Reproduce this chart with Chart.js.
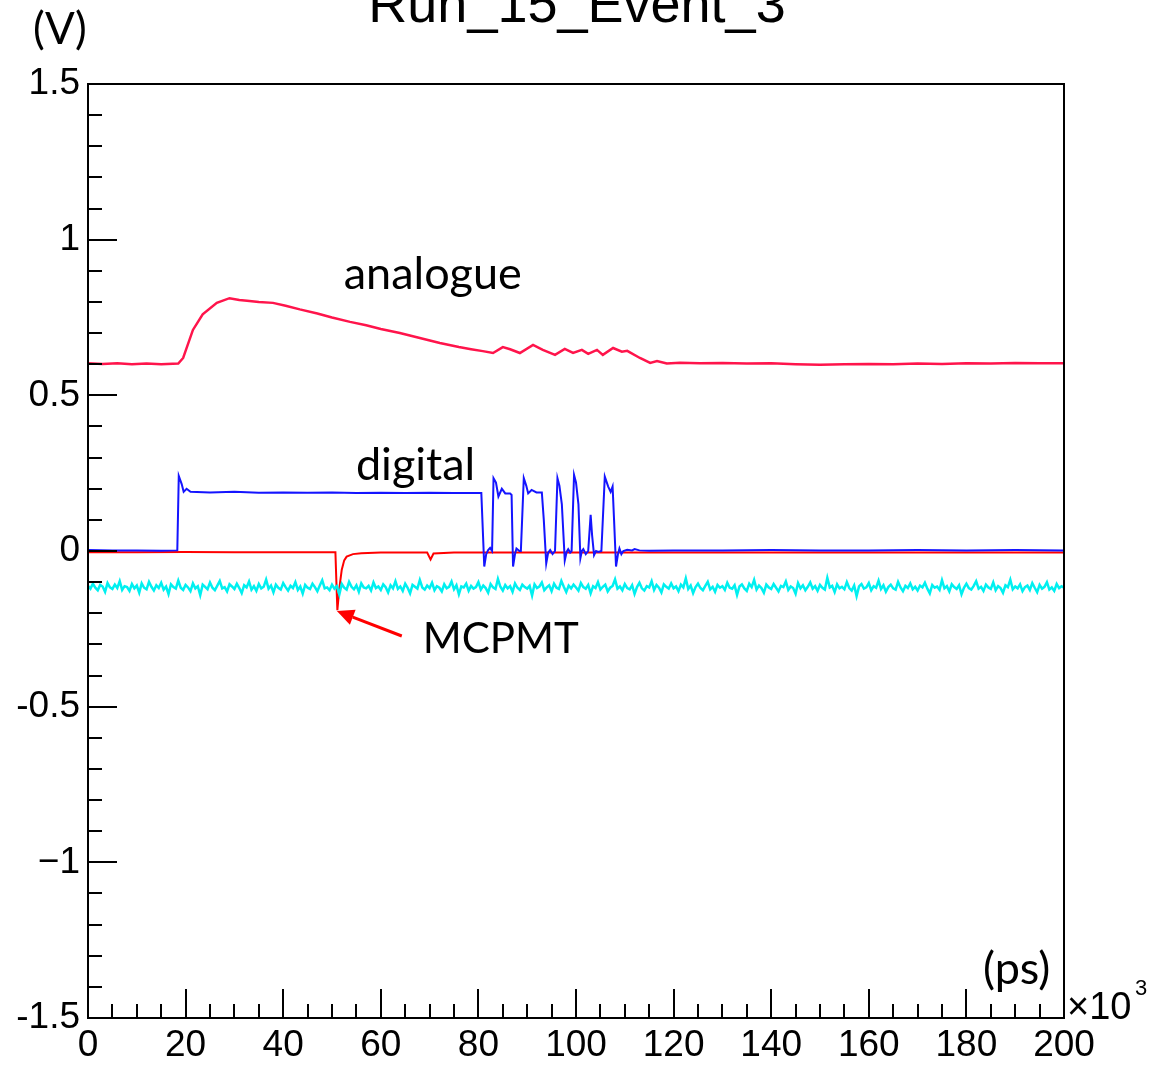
<!DOCTYPE html>
<html>
<head>
<meta charset="utf-8">
<title>Run_15_Event_3</title>
<script src="https://cdn.jsdelivr.net/npm/chart.js@4.4.1/dist/chart.umd.min.js"></script>
<style>
  html, body { margin: 0; padding: 0; background: #fff; }
  canvas { display: block; }
</style>
</head>
<body>
<canvas id="c" width="1152" height="1066" style="width:1152px;height:1066px"></canvas>
<script>
// time in units of 10^3 ps, amplitude in V
const analogueT = [0, 3, 6, 9, 12, 15, 18.5, 19.5, 21.5, 23.5, 26.4, 29, 31, 32.6, 35, 37.9, 40.5, 43.4, 47, 50, 53.7, 57, 60, 63.9, 68, 72.1, 76, 78.5, 80.9, 83, 85, 86.5, 88.5, 91.2, 93.2, 95.7, 97.7, 99.4, 101.2, 102.5, 104.3, 105.5, 107.6, 109.4, 110.5, 113.1, 115.2, 116.6, 118.6, 121.3, 125.4, 130, 135, 140, 145, 150, 155, 160, 165, 170, 175, 180, 185, 190, 195, 200];
const analogueV = [0.603, 0.601, 0.603, 0.600, 0.602, 0.600, 0.602, 0.62, 0.71, 0.76, 0.797, 0.812, 0.806, 0.804, 0.800, 0.797, 0.788, 0.776, 0.763, 0.750, 0.736, 0.725, 0.713, 0.700, 0.684, 0.668, 0.655, 0.648, 0.642, 0.636, 0.655, 0.648, 0.636, 0.662, 0.646, 0.630, 0.649, 0.636, 0.646, 0.633, 0.646, 0.630, 0.652, 0.640, 0.643, 0.620, 0.604, 0.610, 0.602, 0.605, 0.603, 0.604, 0.602, 0.603, 0.600, 0.598, 0.600, 0.601, 0.600, 0.602, 0.601, 0.603, 0.602, 0.604, 0.603, 0.603];

const digitalT = [0, 5, 10, 15, 18.3, 18.6, 19.2, 19.6, 20.2, 21, 25, 30, 35, 40, 45, 50, 55, 60, 65, 70, 75, 80.6, 81.2, 81.6, 82, 82.4, 82.8, 83.1, 83.6, 84.1, 84.8, 85.5, 86.5, 86.8, 87.1, 87.5, 87.8, 88.4, 88.7, 89.3, 89.8, 90.2, 90.9, 91.9, 93.0, 93.4, 93.9, 94.3, 94.7, 95.2, 95.7, 96.2, 96.6, 97.1, 97.7, 98.1, 98.4, 98.8, 99.1, 99.6, 100.0, 100.5, 100.9, 101.2, 101.5, 102.0, 102.5, 103.0, 103.3, 103.7, 104.1, 104.6, 105.2, 105.9, 106.6, 107.1, 107.5, 107.8, 108.2, 108.6, 108.9, 109.3, 109.7, 110.5, 111.5, 112, 113, 115, 120, 130, 140, 150, 160, 170, 180, 190, 200];
const digitalV = [0.003, 0.002, 0.002, 0.001, 0.002, 0.241, 0.215, 0.19, 0.2, 0.19, 0.188, 0.19, 0.187, 0.188, 0.187, 0.188, 0.186, 0.187, 0.186, 0.187, 0.186, 0.186, -0.05, -0.01, 0.003, 0.01, 0.0, 0.234, 0.22, 0.175, 0.2, 0.185, 0.185, 0.18, -0.05, -0.01, 0.008, 0.0, 0.0, 0.234, 0.21, 0.185, 0.196, 0.188, 0.188, 0.10, -0.04, -0.005, 0.003, -0.01, 0.0, 0.234, 0.21, 0.15, -0.03, -0.002, 0.006, -0.005, 0.0, 0.244, 0.22, 0.15, -0.023, 0.0, 0.006, -0.01, 0.0, 0.116, 0.05, -0.013, 0.0, -0.003, 0.0, 0.239, 0.207, 0.19, 0.207, 0.1, -0.05, -0.01, 0.008, -0.01, 0.0, 0.004, 0.002, 0.006, 0.002, 0.001, 0.002, 0.002, 0.003, 0.002, 0.002, 0.003, 0.002, 0.003, 0.002];

const mcpmtT = [0, 10, 20, 30, 40, 50.7, 50.9, 51.1, 51.5, 52, 52.5, 53, 54.3, 56, 60, 65, 69.5, 70.2, 70.8, 75, 80, 100, 120, 140, 160, 180, 200];
const mcpmtV = [-0.004, -0.004, -0.003, -0.004, -0.004, -0.004, -0.10, -0.19, -0.12, -0.06, -0.03, -0.018, -0.01, -0.007, -0.005, -0.005, -0.005, -0.027, -0.008, -0.005, -0.005, -0.005, -0.005, -0.005, -0.005, -0.005, -0.005];

// fourth channel, sampled every 0.5 (x10^3 ps) from 0 to 200
const cyanStep = 0.5;
const cyanV = [
  -0.112,-0.121,-0.105,-0.118,-0.126,-0.109,-0.114,-0.131,-0.103,-0.117,-0.122,-0.108,-0.119,-0.097,-0.125,-0.113,-0.116,-0.128,-0.106,-0.12,
  -0.111,-0.134,-0.104,-0.118,-0.123,-0.099,-0.115,-0.127,-0.11,-0.119,-0.102,-0.124,-0.114,-0.138,-0.107,-0.116,-0.121,-0.095,-0.118,-0.125,
  -0.109,-0.117,-0.129,-0.104,-0.12,-0.113,-0.142,-0.108,-0.115,-0.123,-0.101,-0.118,-0.126,-0.111,-0.096,-0.12,-0.116,-0.13,-0.107,-0.114,
  -0.122,-0.105,-0.119,-0.135,-0.11,-0.117,-0.098,-0.124,-0.113,-0.128,-0.106,-0.12,-0.115,-0.092,-0.121,-0.111,-0.133,-0.108,-0.118,-0.124,
  -0.103,-0.116,-0.127,-0.112,-0.119,-0.1,-0.125,-0.114,-0.137,-0.109,-0.118,-0.122,-0.105,-0.116,-0.129,-0.111,-0.094,-0.12,-0.117,-0.126,
  -0.108,-0.121,-0.113,-0.14,-0.106,-0.118,-0.124,-0.099,-0.115,-0.123,-0.11,-0.131,-0.104,-0.117,-0.12,-0.112,-0.127,-0.101,-0.119,-0.114,
  -0.125,-0.107,-0.116,-0.133,-0.11,-0.12,-0.097,-0.122,-0.114,-0.128,-0.105,-0.118,-0.136,-0.109,-0.115,-0.121,-0.093,-0.117,-0.124,-0.111,
  -0.119,-0.102,-0.126,-0.113,-0.118,-0.13,-0.107,-0.12,-0.115,-0.098,-0.123,-0.11,-0.139,-0.114,-0.117,-0.105,-0.128,-0.112,-0.121,-0.116,
  -0.1,-0.124,-0.111,-0.119,-0.134,-0.106,-0.117,-0.122,-0.09,-0.115,-0.127,-0.109,-0.12,-0.113,-0.131,-0.104,-0.118,-0.125,-0.108,-0.116,
  -0.121,-0.112,-0.143,-0.107,-0.119,-0.114,-0.101,-0.126,-0.117,-0.11,-0.129,-0.105,-0.118,-0.122,-0.096,-0.115,-0.132,-0.111,-0.12,-0.108,
  -0.117,-0.127,-0.103,-0.116,-0.121,-0.109,-0.136,-0.113,-0.119,-0.1,-0.124,-0.115,-0.108,-0.13,-0.118,-0.112,-0.091,-0.121,-0.114,-0.126,
  -0.106,-0.119,-0.123,-0.11,-0.138,-0.116,-0.102,-0.12,-0.127,-0.113,-0.117,-0.097,-0.125,-0.109,-0.118,-0.133,-0.107,-0.115,-0.121,-0.104,
  -0.12,-0.114,-0.129,-0.108,-0.117,-0.088,-0.122,-0.111,-0.135,-0.116,-0.105,-0.119,-0.126,-0.112,-0.099,-0.123,-0.115,-0.131,-0.109,-0.118,
  -0.113,-0.125,-0.102,-0.118,-0.121,-0.11,-0.141,-0.114,-0.107,-0.12,-0.128,-0.105,-0.116,-0.093,-0.124,-0.111,-0.119,-0.134,-0.108,-0.117,
  -0.122,-0.106,-0.118,-0.13,-0.112,-0.116,-0.098,-0.125,-0.114,-0.119,-0.137,-0.103,-0.12,-0.11,-0.126,-0.115,-0.101,-0.121,-0.113,-0.128,
  -0.109,-0.118,-0.124,-0.086,-0.117,-0.112,-0.132,-0.107,-0.12,-0.115,-0.123,-0.1,-0.119,-0.127,-0.111,-0.145,-0.114,-0.106,-0.121,-0.117,
  -0.103,-0.126,-0.113,-0.118,-0.095,-0.122,-0.11,-0.131,-0.116,-0.108,-0.12,-0.124,-0.099,-0.117,-0.129,-0.112,-0.119,-0.104,-0.123,-0.115,
  -0.127,-0.111,-0.117,-0.102,-0.121,-0.136,-0.109,-0.118,-0.114,-0.125,-0.094,-0.12,-0.113,-0.13,-0.107,-0.116,-0.122,-0.11,-0.139,-0.118,
  -0.105,-0.119,-0.124,-0.112,-0.097,-0.121,-0.115,-0.128,-0.108,-0.117,-0.122,-0.101,-0.126,-0.113,-0.119,-0.134,-0.11,-0.116,-0.092,-0.123,
  -0.114,-0.12,-0.107,-0.129,-0.116,-0.111,-0.125,-0.103,-0.118,-0.132,-0.109,-0.121,-0.115,-0.1,-0.124,-0.117,-0.128,-0.106,-0.119,-0.113,
  -0.118
];

const xTickStep = 20;
const yTickStep = 0.5;
const yTickLabels = { '1.5': '1.5', '1': '1', '0.5': '0.5', '0': '0', '-0.5': '-0.5', '-1': '\u22121', '-1.5': '-1.5' };

// text placed in data coordinates (left edge, baseline)
const notes = [
  { text: 'analogue', x: 52.4, y: 0.842, size: 45 },
  { text: 'digital', x: 54.9, y: 0.228, size: 45 },
  { text: 'MCPMT', x: 68.6, y: -0.328, size: 42 },
  { text: '(ps)', x: 183.4, y: -1.391, size: 45 }
];
const arrowFrom = { x: 64.3, y: -0.273 };
const arrowTo = { x: 51.0, y: -0.193 };

const AXIS_FONT = '"Liberation Sans", Arial, Helvetica, sans-serif';
const NOTE_FONT = 'Lato, "Open Sans", sans-serif';

function pts(t, v) {
  return t.map((x, i) => ({ x: x, y: v[i] }));
}

const rootFrame = {
  id: 'rootFrame',
  afterDraw(chart) {
    const ctx = chart.ctx;
    const a = chart.chartArea;
    const xs = chart.scales.x;
    const ys = chart.scales.y;
    ctx.save();
    ctx.strokeStyle = '#000';
    ctx.lineWidth = 2;
    ctx.strokeRect(a.left, a.top, a.right - a.left, a.bottom - a.top);

    // inward ticks, ROOT style
    ctx.beginPath();
    for (let k = 0; k <= 30; k++) {
      const v = -1.5 + k * 0.1;
      const py = Math.round(ys.getPixelForValue(v));
      const len = k % 5 === 0 ? 29 : 14;
      ctx.moveTo(a.left, py);
      ctx.lineTo(a.left + len, py);
    }
    for (let k = 0; k <= 40; k++) {
      const v = k * 5;
      const px = Math.round(xs.getPixelForValue(v));
      const len = k % 4 === 0 ? 29 : 14;
      ctx.moveTo(px, a.bottom);
      ctx.lineTo(px, a.bottom - len);
    }
    ctx.stroke();

    // title, partly off the top of the canvas
    ctx.fillStyle = '#000';
    ctx.textAlign = 'center';
    ctx.textBaseline = 'alphabetic';
    ctx.font = '54px ' + AXIS_FONT;
    ctx.fillText('Run_15_Event_3', 577, 22);

    // x10^3 exponent
    ctx.textAlign = 'left';
    ctx.font = '38px ' + AXIS_FONT;
    ctx.fillText('\u00d710', a.right + 3, a.bottom + 1);
    ctx.font = '22px ' + AXIS_FONT;
    ctx.fillText('3', a.right + 71, a.bottom - 23);

    // unit label of y
    ctx.font = '44px ' + NOTE_FONT;
    ctx.fillText('(V)', 33, 44);

    notes.forEach(n => {
      ctx.font = n.size + 'px ' + NOTE_FONT;
      ctx.fillText(n.text, xs.getPixelForValue(n.x), ys.getPixelForValue(n.y));
    });

    // arrow to the MCPMT pulse
    const x0 = xs.getPixelForValue(arrowFrom.x), y0 = ys.getPixelForValue(arrowFrom.y);
    const x1 = xs.getPixelForValue(arrowTo.x), y1 = ys.getPixelForValue(arrowTo.y);
    const ang = Math.atan2(y1 - y0, x1 - x0);
    const head = 17, half = 8;
    const bx = x1 - head * Math.cos(ang), by = y1 - head * Math.sin(ang);
    ctx.strokeStyle = '#ff0000';
    ctx.fillStyle = '#ff0000';
    ctx.lineWidth = 3;
    ctx.beginPath();
    ctx.moveTo(x0, y0);
    ctx.lineTo(bx, by);
    ctx.stroke();
    ctx.beginPath();
    ctx.moveTo(x1, y1);
    ctx.lineTo(bx + half * Math.sin(ang), by - half * Math.cos(ang));
    ctx.lineTo(bx - half * Math.sin(ang), by + half * Math.cos(ang));
    ctx.closePath();
    ctx.fill();
    ctx.restore();
  }
};

const lineStyle = { pointRadius: 0, tension: 0, fill: false };

new Chart(document.getElementById('c'), {
  type: 'line',
  data: {
    datasets: [
      Object.assign({ label: 'analogue', data: pts(analogueT, analogueV), borderColor: 'rgb(255,20,75)', borderWidth: 2.5, order: 1 }, lineStyle),
      Object.assign({ label: 'digital', data: pts(digitalT, digitalV), borderColor: 'rgb(20,20,255)', borderWidth: 2, order: 2 }, lineStyle),
      Object.assign({ label: 'cyan', data: cyanV.map((v, i) => ({ x: i * cyanStep, y: v })), borderColor: 'rgb(0,240,240)', borderWidth: 2.5, order: 3 }, lineStyle),
      Object.assign({ label: 'MCPMT', data: pts(mcpmtT, mcpmtV), borderColor: 'rgb(255,0,0)', borderWidth: 2, order: 4 }, lineStyle)
    ]
  },
  options: {
    responsive: false,
    animation: false,
    devicePixelRatio: 1,
    layout: { padding: { top: 84, right: 88, left: 0, bottom: 0 } },
    plugins: { legend: { display: false }, tooltip: { enabled: false }, title: { display: false } },
    scales: {
      x: {
        type: 'linear',
        min: 0,
        max: 200,
        grid: { display: false, drawTicks: false },
        border: { display: false },
        ticks: {
          stepSize: xTickStep,
          autoSkip: false,
          maxRotation: 0,
          padding: 6,
          color: '#000',
          font: { family: AXIS_FONT, size: 37 }
        },
        afterFit: s => { s.height = 48; }
      },
      y: {
        min: -1.5,
        max: 1.5,
        grid: { display: false, drawTicks: false },
        border: { display: false },
        ticks: {
          stepSize: yTickStep,
          autoSkip: false,
          padding: 8,
          color: '#000',
          font: { family: AXIS_FONT, size: 37 },
          callback: v => yTickLabels[String(Math.round(v * 10) / 10)] || String(v)
        },
        afterFit: s => { s.width = 88; }
      }
    }
  },
  plugins: [rootFrame]
});
</script>
</body>
</html>
